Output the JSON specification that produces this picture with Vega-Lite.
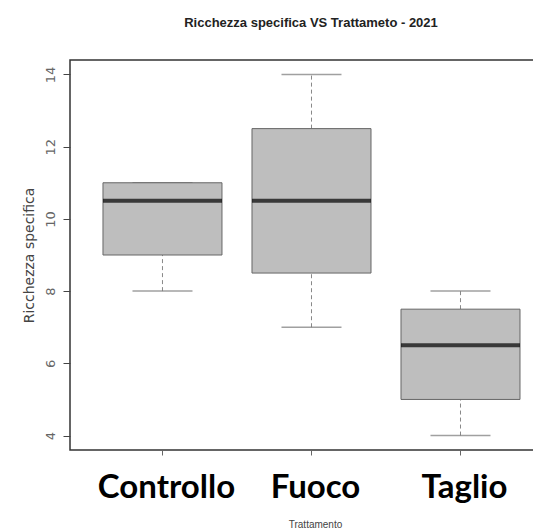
{
  "$schema": "https://vega.github.io/schema/vega-lite/v6.json",
  "autosize": {"type": "none"},
  "padding": {"left": 70, "top": 60, "right": 0, "bottom": 81},
  "width": 480,
  "height": 390,
  "background": "white",
  "title": {
    "text": "Ricchezza specifica VS Trattameto - 2021",
    "font": "Liberation Sans, Arial, sans-serif",
    "fontSize": 13,
    "fontWeight": "bold",
    "color": "#222",
    "anchor": "middle",
    "frame": "group",
    "offset": 30,
    "dx": 1
  },
  "data": {
    "values": [
      {"trattamento": "Controllo", "min": 8, "q1": 9, "median": 10.5, "q3": 11, "max": 11},
      {"trattamento": "Fuoco", "min": 7, "q1": 8.5, "median": 10.5, "q3": 12.5, "max": 14},
      {"trattamento": "Taglio", "min": 4, "q1": 5, "median": 6.5, "q3": 7.5, "max": 8}
    ]
  },
  "encoding": {
    "x": {
      "field": "trattamento",
      "type": "nominal",
      "sort": ["Controllo", "Fuoco", "Taglio"],
      "scale": {"paddingInner": 0, "paddingOuter": 0.1107, "align": 0.545},
      "axis": {
        "title": "Trattamento",
        "titleFont": "Liberation Sans, Arial, sans-serif",
        "titleFontSize": 10,
        "titleFontWeight": "normal",
        "titleColor": "#444",
        "titlePadding": 15,
        "titleX": 245,
        "labelAngle": 0,
        "labelFont": "Lato, Open Sans, sans-serif",
        "labelFontSize": 33,
        "labelFontWeight": "bold",
        "labelColor": "#000",
        "labelPadding": 16,
        "labelOffset": 4,
        "domain": false,
        "ticks": true,
        "tickSize": 5,
        "tickColor": "#666",
        "grid": false
      }
    }
  },
  "layer": [
    {
      "mark": {"type": "rule", "color": "#888", "strokeDash": [4, 3], "strokeWidth": 1},
      "encoding": {
        "y": {
          "field": "min",
          "type": "quantitative",
          "scale": {"domain": [3.6, 14.4], "nice": false, "zero": false},
          "axis": {
            "title": "Ricchezza specifica",
            "titleFont": "DejaVu Sans, sans-serif",
            "titleFontSize": 14,
            "titleFontWeight": "normal",
            "titleColor": "#444",
            "titlePadding": 8,
            "values": [4, 6, 8, 10, 12, 14],
            "labelAngle": -90,
            "labelAlign": "center",
            "labelBaseline": "bottom",
            "labelFont": "DejaVu Sans, sans-serif",
            "labelFontSize": 13,
            "labelColor": "#666",
            "labelPadding": 6,
            "tickSize": 7,
            "tickColor": "#444",
            "domain": false,
            "grid": false
          }
        },
        "y2": {"field": "q1"}
      }
    },
    {
      "mark": {"type": "rule", "color": "#888", "strokeDash": [4, 3], "strokeWidth": 1},
      "encoding": {
        "y": {"field": "q3", "type": "quantitative"},
        "y2": {"field": "max"}
      }
    },
    {
      "mark": {"type": "tick", "color": "#777", "size": 60, "thickness": 1.5},
      "encoding": {"y": {"field": "min", "type": "quantitative"}}
    },
    {
      "mark": {"type": "tick", "color": "#777", "size": 60, "thickness": 1.5},
      "encoding": {"y": {"field": "max", "type": "quantitative"}}
    },
    {
      "mark": {"type": "bar", "fill": "#BEBEBE", "stroke": "#666", "strokeWidth": 1, "size": 119},
      "encoding": {
        "y": {"field": "q1", "type": "quantitative"},
        "y2": {"field": "q3"}
      }
    },
    {
      "mark": {"type": "tick", "color": "#000", "size": 119, "thickness": 4},
      "encoding": {"y": {"field": "median", "type": "quantitative"}}
    }
  ],
  "config": {
    "view": {"stroke": "#333", "strokeWidth": 1.5}
  }
}
